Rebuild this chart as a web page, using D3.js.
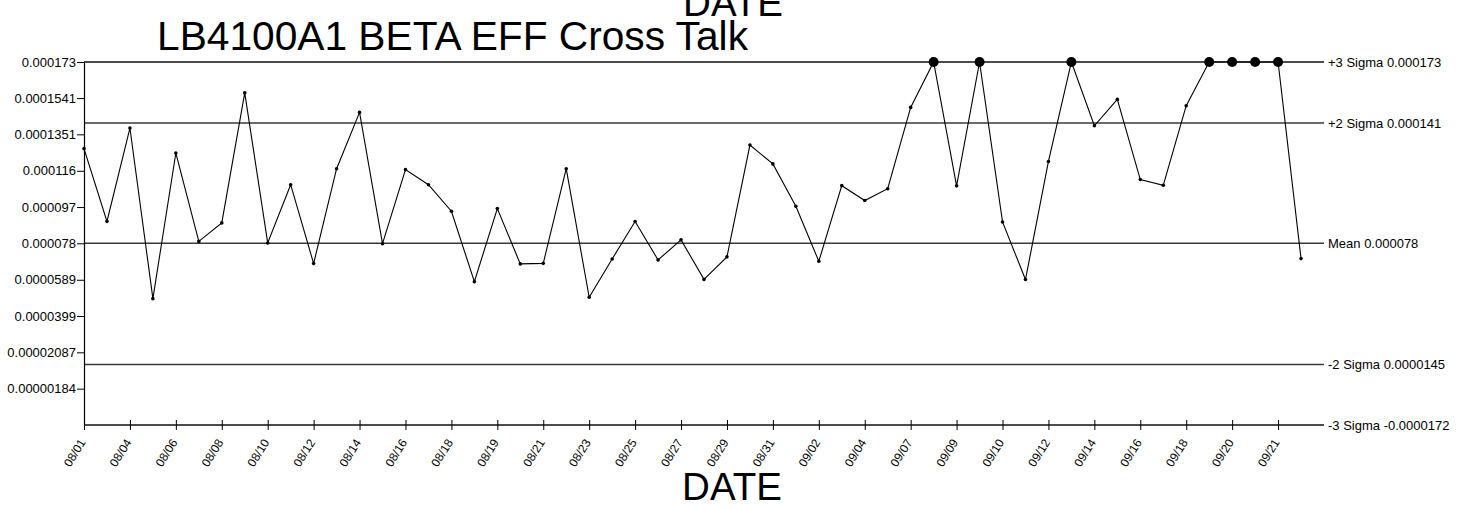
<!DOCTYPE html>
<html>
<head>
<meta charset="utf-8">
<script src="https://cdn.jsdelivr.net/npm/d3@7"></script>
<style>
  html, body { margin: 0; padding: 0; background: #fff; }
  svg { display: block; font-family: "Liberation Sans", Arial, sans-serif; }
</style>
</head>
<body>
<svg id="chart" width="1470" height="508"></svg>
<script>
// ---- data ----
const dates = [
  "08/01","08/03","08/04","08/05","08/06","08/07","08/08","08/09","08/10","08/11",
  "08/12","08/13","08/14","08/15","08/16","08/17","08/18","08/18","08/19","08/20",
  "08/21","08/22","08/23","08/24","08/25","08/26","08/27","08/28","08/29","08/30",
  "08/31","09/01","09/02","09/03","09/04","09/05","09/07","09/08","09/09","09/09",
  "09/10","09/11","09/12","09/13","09/14","09/15","09/16","09/17","09/18","09/19",
  "09/20","09/20","09/21","09/22"
];
const values = [
  0.0001276,0.0000895,0.0001384,0.0000490,0.0001253,0.0000790,0.0000887,0.0001568,0.0000782,0.0001087,
  0.0000674,0.0001171,0.0001466,0.0000778,0.0001166,0.0001087,0.0000948,0.0000579,0.0000962,0.0000672,
  0.0000675,0.0001171,0.0000497,0.0000698,0.0000894,0.0000693,0.0000798,0.0000591,0.0000709,0.0001295,
  0.0001196,0.0000974,0.0000686,0.0001082,0.0001004,0.0001066,0.0001492,0.000173,0.0001081,0.000173,
  0.0000892,0.0000590,0.0001209,0.000173,0.0001396,0.0001534,0.0001114,0.0001084,0.0001501,0.000173,
  0.000173,0.000173,0.000173,0.0000700
];
const yTickValues = [0.000173,0.0001541,0.0001351,0.000116,0.000097,0.000078,0.0000589,0.0000399,0.00002087,0.00000184];
const yTickLabels = ["0.000173","0.0001541","0.0001351","0.000116","0.000097","0.000078","0.0000589","0.0000399","0.00002087","0.00000184"];
const limitNames  = ["+3 Sigma","+2 Sigma","Mean","-2 Sigma","-3 Sigma"];
const limitValues = [0.000173, 0.000141, 0.000078, 0.0000145, -0.0000172];
const limitLabels = ["0.000173","0.000141","0.000078","0.0000145","-0.0000172"];
const chartTitle = "LB4100A1 BETA EFF Cross Talk";
const xTitle = "DATE";

// ---- layout ----
const mLeft = 84, mRight = 1324, mTop = 62, mBottom = 425;
const svg = d3.select("#chart");

const idx = d3.range(dates.length);
const x = d3.scalePoint().domain(idx).range([mLeft, mLeft + (mRight - mLeft) * (dates.length - 1) / dates.length]);
const y = d3.scaleLinear().domain([-0.0000172, 0.000173]).range([mBottom, mTop]);

// titles
svg.append("text").attr("x", 452.5).attr("y", 50).attr("text-anchor", "middle")
  .attr("font-size", 40.7).attr("fill", "#000").text(chartTitle);
svg.append("text").attr("x", 733).attr("y", 16).attr("text-anchor", "middle")
  .attr("font-size", 38.5).attr("fill", "#000").text(xTitle);
svg.append("text").attr("x", 732).attr("y", 500).attr("text-anchor", "middle")
  .attr("font-size", 38.5).attr("fill", "#000").text(xTitle);

// limit lines
const lim = svg.append("g");
limitValues.forEach((v, i) => {
  lim.append("line").attr("x1", mLeft).attr("x2", mRight)
    .attr("y1", y(v)).attr("y2", y(v))
    .attr("stroke", i === 0 || i === 4 ? "#111" : "#3a3a3a").attr("stroke-width", 1.4);
  lim.append("text").attr("x", mRight + 4).attr("y", y(v)).attr("dy", "0.35em")
    .attr("font-size", 13).attr("fill", "#000")
    .text(limitNames[i] + " " + limitLabels[i]);
});

// y axis
const yAxis = d3.axisLeft(y).tickValues(yTickValues)
  .tickFormat((d, i) => yTickLabels[i]).tickSize(7).tickPadding(1).tickSizeOuter(0);
const gy = svg.append("g").attr("transform", `translate(${mLeft},0)`).call(yAxis);
gy.select(".domain").attr("stroke", "#000").attr("stroke-width", 1.2);
gy.selectAll(".tick line").attr("stroke", "#000");
gy.selectAll("text").attr("font-size", 13).attr("fill", "#000")
  .attr("font-family", "Liberation Sans, Arial, sans-serif");

// x axis ticks (every other point)
const labelIdx = idx.filter(i => i % 2 === 0);
const xAxis = d3.axisBottom(x).tickValues(labelIdx).tickFormat(i => dates[i])
  .tickSizeInner(5).tickSizeOuter(0);
const gx = svg.append("g").attr("transform", `translate(0,${mBottom})`).call(xAxis);
gx.select(".domain").remove();
gx.selectAll(".tick line").attr("y1", -5).attr("y2", 5).attr("stroke", "#000");
gx.selectAll("text").attr("font-size", 12).attr("fill", "#000")
  .attr("font-family", "Liberation Sans, Arial, sans-serif")
  .attr("text-anchor", "end").attr("dy", "0.35em")
  .attr("transform", "translate(-2,15) rotate(-58)").attr("y", 0).attr("x", 0);

// data line
const line = d3.line().x((d, i) => x(i)).y(d => y(d));
svg.append("path").datum(values).attr("d", line)
  .attr("fill", "none").attr("stroke", "#000").attr("stroke-width", 1.1);

// points
const ucl = limitValues[0];
svg.append("g").selectAll("circle").data(values).join("circle")
  .attr("cx", (d, i) => x(i)).attr("cy", d => y(d))
  .attr("r", d => d >= ucl ? 5 : 1.8).attr("fill", "#000");
</script>
</body>
</html>
